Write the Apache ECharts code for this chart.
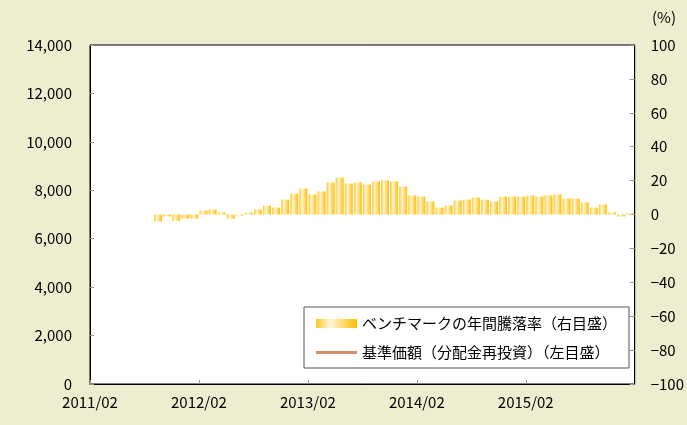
<!DOCTYPE html>
<html>
<head>
<meta charset="utf-8">
<script src="https://cdn.jsdelivr.net/npm/echarts@6/dist/echarts.min.js"></script>
<style>
  html, body { margin: 0; padding: 0; background: #ededd0; }
  #chart { width: 687px; height: 425px; }
</style>
</head>
<body>
<div id="chart"></div>
<script>
// 月（ベンチマーク騰落率のある月）
var months = [
  '2011/09','2011/10','2011/11','2011/12','2012/01','2012/02','2012/03','2012/04','2012/05','2012/06',
  '2012/07','2012/08','2012/09','2012/10','2012/11','2012/12','2013/01','2013/02','2013/03','2013/04',
  '2013/05','2013/06','2013/07','2013/08','2013/09','2013/10','2013/11','2013/12','2014/01','2014/02',
  '2014/03','2014/04','2014/05','2014/06','2014/07','2014/08','2014/09','2014/10','2014/11','2014/12',
  '2015/01','2015/02','2015/03','2015/04','2015/05','2015/06','2015/07','2015/08','2015/09','2015/10',
  '2015/11','2015/12','2016/01'
];
// ベンチマークの年間騰落率（%）
var benchmarkReturn = [
  -4.1, -1.2, -3.7, -2.5, -2.5, 2.4, 3.0, 1.2, -2.4, -0.6,
  1.2, 3.0, 5.3, 4.1, 8.8, 12.4, 15.3, 11.8, 13.6, 18.9,
  21.8, 18.3, 18.9, 17.7, 19.5, 20.1, 19.5, 16.5, 11.2, 10.6,
  7.7, 4.1, 5.3, 8.3, 8.8, 10.0, 8.8, 7.7, 10.6, 10.6,
  10.6, 11.2, 10.6, 11.2, 11.8, 9.4, 9.4, 7.1, 4.1, 5.9,
  1.2, -1.2, 0.6
];
// 基準価額（分配金再投資）: 表示なし
var navValues = [];
// x軸の目盛ラベル
var tickLabels = ['2011/02', '2012/02', '2013/02', '2014/02', '2015/02', '2016/02'];

var startYear = 2011, startMonth = 2;
function monthIndex(s) {
    var p = s.split('/');
    return (parseInt(p[0], 10) - startYear) * 12 + (parseInt(p[1], 10) - startMonth);
}

var barData = months.map(function (m, i) {
    return [monthIndex(m) + 0.5, benchmarkReturn[i]];
});

var font = '"Noto Sans CJK JP", "Liberation Sans", sans-serif';

var chart = echarts.init(document.getElementById('chart'));
var option = {
    backgroundColor: '#ededd0',
    animation: false,
    textStyle: { fontFamily: font },
    grid: {
        left: 90, right: 49, top: 45, bottom: 41,
        show: true,
        backgroundColor: '#ffffff',
        borderColor: '#000000',
        borderWidth: 1
    },
    graphic: [{
        type: 'text',
        left: 652, top: 10,
        style: { text: '(%)', fontSize: 15, fontFamily: font, fill: '#000' }
    }],
    legend: {
        orient: 'vertical',
        left: 304, top: 307,
        width: 325,
        padding: [9, 12, 8, 12],
        backgroundColor: '#ffffff',
        borderColor: '#555555',
        borderWidth: 1,
        itemWidth: 41,
        itemHeight: 9,
        itemGap: 14,
        textStyle: { fontSize: 15, color: '#000', fontFamily: font },
        data: [
            { name: 'ベンチマークの年間騰落率（右目盛）', icon: 'rect' },
            { name: '基準価額（分配金再投資）（左目盛）', icon: 'path://M0,0 H41 V3 H0 Z' }
        ]
    },
    xAxis: {
        type: 'value',
        min: 0, max: 60, interval: 12,
        axisLine: { lineStyle: { color: '#000', width: 1 } },
        axisTick: { inside: true, length: 4, lineStyle: { color: '#999' } },
        splitLine: { show: false },
        axisLabel: {
            fontSize: 15, color: '#000', margin: 11,
            showMaxLabel: false,
            formatter: function (v) {
                var k = Math.round(v / 12);
                return k < tickLabels.length - 1 ? tickLabels[k] : '';
            }
        }
    },
    yAxis: [{
        type: 'value',
        min: 0, max: 14000, interval: 2000,
        axisLine: { show: true, lineStyle: { color: '#000' } },
        axisTick: { show: true, inside: true, length: 4, lineStyle: { color: '#999' } },
        splitLine: { show: false },
        axisLabel: {
            fontSize: 15, color: '#000', margin: 18,
            formatter: function (v) { return v.toLocaleString('en-US'); }
        }
    }, {
        type: 'value',
        min: -100, max: 100, interval: 20,
        position: 'right',
        axisLine: { show: true, lineStyle: { color: '#000' } },
        axisTick: { show: true, inside: true, length: 5, lineStyle: { color: '#999' } },
        splitLine: { show: false },
        axisLabel: {
            fontSize: 15, color: '#000', margin: 16,
            formatter: function (v) { return v < 0 ? '\u2212' + (-v) : String(v); }
        }
    }],
    series: [{
        name: 'ベンチマークの年間騰落率（右目盛）',
        type: 'bar',
        yAxisIndex: 1,
        barWidth: 8,
        itemStyle: {
            color: new echarts.graphic.LinearGradient(0, 0, 1, 0, [
                { offset: 0, color: '#ffc823' },
                { offset: 0.35, color: '#fff5dc' },
                { offset: 1, color: '#ffbf00' }
            ])
        },
        data: barData
    }, {
        name: '基準価額（分配金再投資）（左目盛）',
        type: 'line',
        yAxisIndex: 0,
        symbol: 'none',
        color: '#d4906e',
        lineStyle: { color: '#d4906e', width: 3 },
        data: navValues
    }]
};
chart.setOption(option);
</script>
</body>
</html>
